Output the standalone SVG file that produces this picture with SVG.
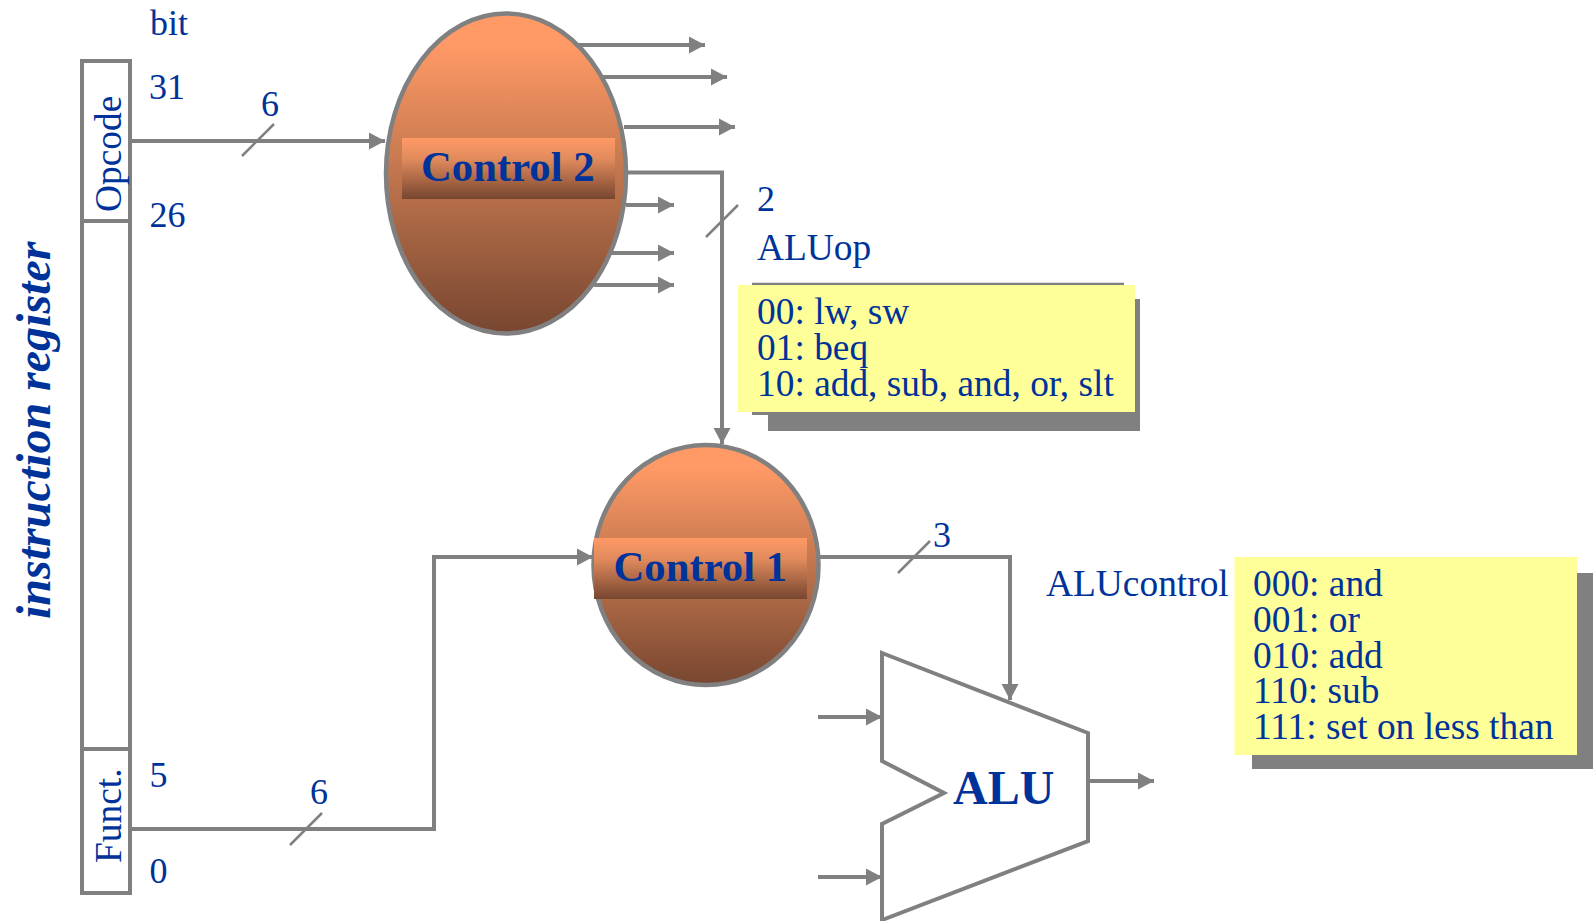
<svg xmlns="http://www.w3.org/2000/svg" width="1593" height="921" viewBox="0 0 1593 921">
<style>
text{font-family:"Liberation Serif","Times New Roman",serif;fill:#003399;font-size:36px}
.t{font-size:37.400px}
.b{font-weight:bold;font-size:42.700px}
.ln{fill:none;stroke:#808080;stroke-width:4}
.th{fill:none;stroke:#808080;stroke-width:2.500}
.sh{fill:#808080}
.y{fill:#ffff99}
.el{stroke:#808080;stroke-width:4.500;fill:url(#g)}
</style>
<defs>
<linearGradient id="g" x1="0" y1="0" x2="0" y2="1"><stop offset="0.1" stop-color="#ff9966"/><stop offset="0.45" stop-color="#c87a50"/><stop offset="1" stop-color="#774630"/></linearGradient>
<linearGradient id="g2" x1="0" y1="0" x2="0" y2="1"><stop offset="0" stop-color="#ff9966"/><stop offset="0.35" stop-color="#e08a5c"/><stop offset="1" stop-color="#774630"/></linearGradient>
<marker id="a" markerUnits="userSpaceOnUse" markerWidth="17" markerHeight="18" refX="16" refY="9" orient="auto"><path d="M0 0.500L16 9L0 17.500Z" fill="#808080"/></marker>
</defs>
<g id="connectors">
<path class="ln" marker-end="url(#a)" d="M130 141H385"/>
<path class="th" d="M242 156L274 124"/>
<path class="ln" marker-end="url(#a)" d="M578 45H705"/>
<path class="ln" marker-end="url(#a)" d="M603 77H727"/>
<path class="ln" marker-end="url(#a)" d="M624 127H735"/>
<path class="ln" marker-end="url(#a)" d="M626 205H674"/>
<path class="ln" marker-end="url(#a)" d="M612 253H674"/>
<path class="ln" marker-end="url(#a)" d="M594 285H674"/>
<path class="ln" marker-end="url(#a)" d="M627 172.500H722V444"/>
<path class="th" d="M706 237L738 205"/>
<path class="ln" marker-end="url(#a)" d="M130 829H434V557H593"/>
<path class="th" d="M290 845L322 813"/>
<path class="ln" marker-end="url(#a)" d="M819 557H1010V700"/>
<path class="th" d="M898 573L930 541"/>
<path class="ln" marker-end="url(#a)" d="M818 717H882"/>
<path class="ln" marker-end="url(#a)" d="M818 877H882"/>
<path class="ln" marker-end="url(#a)" d="M1088 781H1154"/>
</g>
<g id="register">
<rect class="ln" x="82" y="61" width="48" height="832"/>
<path class="ln" d="M82 221H130M82 749H130"/>
<text class="t" transform="translate(121 212) rotate(-90)">Opcode</text>
<text class="t" transform="translate(120.500 863) rotate(-90)">Funct.</text>
<text transform="translate(50 619) rotate(-90)" style="font-size:48px;font-weight:bold;font-style:italic">instruction register</text>
<text x="150" y="35">bit</text><text x="149" y="99">31</text><text x="149.500" y="227">26</text><text x="149.500" y="787">5</text><text x="149.500" y="883">0</text>
<text x="261" y="116">6</text><text x="310" y="804">6</text><text x="757" y="211">2</text><text x="933" y="547">3</text>
</g>
<g id="control2">
<ellipse class="el" cx="506" cy="173.500" rx="120" ry="160"/>
<rect x="402" y="138" width="213" height="61" fill="url(#g2)"/>
<text class="b" x="421" y="181">Control 2</text>
</g>
<g id="control1">
<ellipse class="el" cx="706" cy="565" rx="112.500" ry="120"/>
<rect x="594" y="538" width="213" height="61" fill="url(#g2)"/>
<text class="b" x="613.500" y="581">Control 1</text>
</g>
<g id="aluop">
<text class="t" x="757" y="259.500">ALUop</text>
<path class="th" d="M752 284H1124"/>
<path class="sh" d="M1135 299H1140V431H768V415H752V412H1135Z"/>
<rect class="y" x="738" y="285" width="397" height="127"/>
<text class="t" x="757" y="324">00: lw, sw</text><text class="t" x="757" y="360">01: beq</text><text class="t" x="757" y="396">10: add, sub, and, or, slt</text>
</g>
<g id="alucontrol">
<text class="t" x="1046" y="595.500">ALUcontrol</text>
<path class="sh" d="M1577 573H1593V769H1252V755H1577Z"/>
<rect class="y" x="1234.500" y="557" width="342.500" height="198"/>
<text class="t" x="1253" y="596">000: and</text><text class="t" x="1253" y="632">001: or</text><text class="t" x="1253" y="668">010: add</text><text class="t" x="1253" y="703">110: sub</text><text class="t" x="1253" y="739">111: set on less than</text>
</g>
<g id="alu">
<path class="ln" d="M882 653L1088 733V841L882 920V824L944 793L882 761Z"/>
<text x="953" y="804" style="font-size:48px;font-weight:bold">ALU</text>
</g>
</svg>
